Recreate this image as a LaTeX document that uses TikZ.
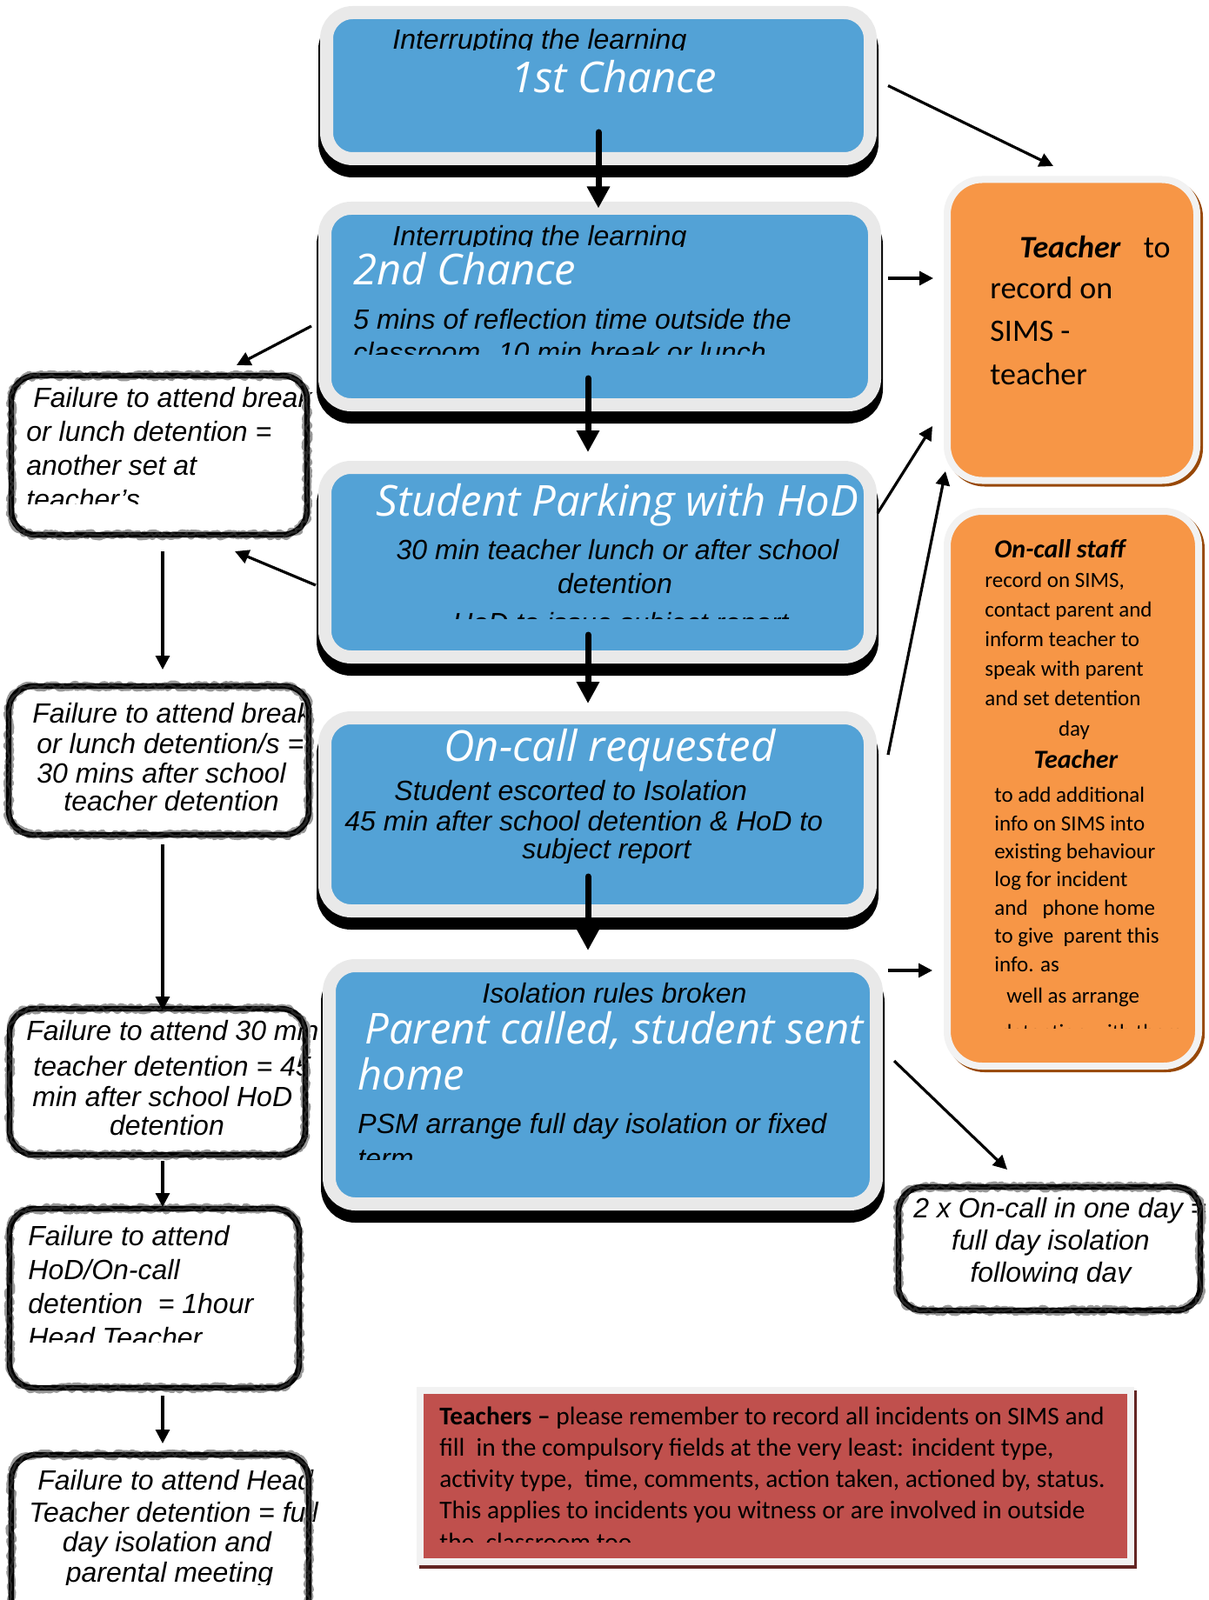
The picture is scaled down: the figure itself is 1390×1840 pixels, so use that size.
\documentclass[tikz,border=0pt]{standalone}
\usepackage{fontspec}
\setmainfont{Liberation Sans}
\newfontfamily\headfont{Open Sans}
\newfontfamily\calfont{Carlito}[Ligatures=TeX]
\usetikzlibrary{arrows.meta,decorations.pathmorphing}

\definecolor{boxblue}{RGB}{83,162,214}
\definecolor{boxgrey}{RGB}{233,233,233}
\definecolor{paleframe}{RGB}{242,242,242}
\definecolor{noteorange}{RGB}{247,150,70}
\definecolor{orangeshadow}{RGB}{152,72,7}
\definecolor{notered}{RGB}{192,80,77}
\definecolor{redshadow}{RGB}{99,37,35}

\begin{document}
\begin{tikzpicture}[x=0.5pt, y=-0.5pt,
    card/.style={fill=boxblue, draw=boxgrey, line width=7.5pt, rounded corners=15pt,
      inner sep=0pt, outer sep=0pt,
      preaction={fill=black, draw=black, line width=9.5pt, transform canvas={yshift=-6pt}}},
    memo/.style={fill=noteorange, draw=paleframe, line width=4pt, rounded corners=20pt,
      inner sep=0pt, outer sep=0pt,
      preaction={fill=orangeshadow, draw=orangeshadow, line width=4pt,
        transform canvas={xshift=1.5pt, yshift=-1.5pt}}},
    notice/.style={fill=notered, draw=paleframe, line width=4pt, inner sep=0pt, outer sep=0pt,
      preaction={fill=redshadow, draw=redshadow, line width=4pt,
        transform canvas={xshift=1.5pt, yshift=-2pt}}},
    sketchbox/.style={fill=white, inner sep=0pt, outer sep=0pt, rounded corners=14pt},
    roughline/.style={draw=black, line width=3.2pt, rounded corners=14pt,
      preaction={draw=black!40, line width=4.4pt, sharp corners, line join=round, decorate,
        decoration={random steps, segment length=1.5pt, amplitude=1.1pt}},
      postaction={draw=black!85, line width=1.3pt, sharp corners, line join=round, decorate,
        decoration={random steps, segment length=1.8pt, amplitude=1.1pt}}},
    blk/.style={font=\itshape\fontsize{16}{19}\selectfont, inner sep=0pt, anchor=base west},
    lead/.style={font=\headfont\itshape\fontsize{24.5}{28}\selectfont, text=white,
      inner sep=0pt, anchor=base west},
    cal/.style={font=\calfont\fontsize{12.5}{17}\selectfont, inner sep=0pt,
      anchor=base west, align=left},
    bigarrow/.style={line width=3.5pt, line cap=round, -{Triangle[length=12.5pt, width=12.5pt]}},
    smallarrow/.style={line width=1.6pt, -{Triangle[length=8pt, width=8pt]}}]

    \clip (0,0) rectangle (1390,1840);
    \fill[white] (0,0) rectangle (1390,1840);

    % Blue cards
    \node[card, minimum width=312.5pt, minimum height=84pt] (chance1) at (688,98.5) {};
    \node[card, minimum width=316pt, minimum height=113pt] (chance2) at (689.5,352.5) {};
    \node[card, minimum width=313.5pt, minimum height=109pt] (parking) at (687,646.5) {};
    \node[card, minimum width=313.5pt, minimum height=111pt] (oncall) at (687,936.5) {};
    \node[card, minimum width=314.5pt, minimum height=137pt] (sendhome) at (693,1247.5) {};

    % Texts of the blue cards (multi-line nodes sit on their last line)
    \begin{scope}
        \clip (380,15) rectangle (1000,58);
        \node[blk] (learn1) at (451,57) {Interrupting the learning};
    \end{scope}
    \node[lead] (first) at (587,107) {1st Chance};

    \begin{scope}
        \clip (380,245) rectangle (1000,284);
        \node[blk] (learn2) at (451,283) {Interrupting the learning};
    \end{scope}
    \node[lead] (second) at (406,328) {2nd Chance};
    \begin{scope}
        \clip (380,340) rectangle (1000,407);
        \node[blk, align=left] (reflect) at (406,416)
            {5 mins of reflection time outside the\\classroom. 10 min break or lunch};
    \end{scope}

    \node[lead] (parkhead) at (432,593) {Student Parking with HoD};
    \node[blk, anchor=base] (parkdet) at (710,643) {30 min teacher lunch or after school};
    \node[blk, anchor=base] (parkdet2) at (707,682) {detention};
    \begin{scope}
        \clip (380,690) rectangle (1000,711);
        \node[blk] (parkhod) at (520,727) {HoD to issue subject report};
    \end{scope}

    \node[lead, anchor=base] (callhead) at (701,875) {On-call requested};
    \node[blk] (escort) at (453,920) {Student escorted to Isolation};
    \node[blk] (escort2) at (396,955) {45 min after school detention \& HoD to};
    \begin{scope}
        \clip (380,960) rectangle (1000,992);
        \node[blk] (escort3) at (600,987) {subject report};
    \end{scope}

    \node[blk] (broken) at (554,1153) {Isolation rules broken};
    \node[lead] (sent) at (419,1200) {Parent called, student sent};
    \node[lead] (home) at (411,1253) {home};
    \node[blk] (psm) at (411,1303) {PSM arrange full day isolation or fixed};
    \begin{scope}
        \clip (385,1310) rectangle (1000,1333);
        \node[blk] (psm2) at (411,1343) {term};
    \end{scope}

    % Orange notes
    \node[memo, minimum width=143.5pt, minimum height=173pt] (recordbox) at (1232.5,379.5) {};
    \node[cal, font=\calfont\fontsize{18}{24.75}\selectfont] (rec1) at (1172,297)
        {\textbf{\textit{Teacher}}\hspace{9pt} to};
    \node[cal, font=\calfont\fontsize{18}{24.75}\selectfont] (rec2) at (1138,442)
        {record on\\SIMS -\\teacher};

    \node[memo, minimum width=144.5pt, minimum height=319pt] (staffbox) at (1233.5,907) {};
    \node[cal, font=\calfont\fontsize{15}{17}\selectfont] (staff1) at (1143,641)
        {\textbf{\textit{On-call staff}}};
    \node[cal] (staff2) at (1132,811)
        {record on SIMS,\\contact parent and\\inform teacher to\\speak with parent\\and set detention};
    \node[cal, anchor=base] (staff3) at (1235,846) {day};
    \node[cal, anchor=base, font=\calfont\fontsize{15}{17}\selectfont] (staff4) at (1237,883)
        {\textbf{\textit{Teacher}}};
    \node[cal, font=\calfont\fontsize{12.5}{16.17}\selectfont] (staff5) at (1143,1117)
        {to add additional\\info on SIMS into\\existing behaviour\\log for incident\\and\ \ \ phone home\\to give\ \ parent this\\info. as};
    \node[cal] (staff6) at (1157,1153) {well as arrange};
    \begin{scope}
        \clip (1095,1160) rectangle (1370,1182);
        \node[cal] (staff7) at (1150,1195) {detention with them};
    \end{scope}

    % Reminder
    \node[notice, minimum width=408.5pt, minimum height=98.5pt] (reminder) at (891.5,1697.5) {};
    \begin{scope}
        \clip (488,1607) rectangle (1292,1773);
        \node[cal, font=\calfont\fontsize{14.7}{18.1}\selectfont] (remindtext) at (505,1783)
            {\textbf{Teachers –} please remember to record all incidents on SIMS and\\
             fill\ \ in the compulsory fields at the very least: incident type,\\
             activity type,\ \ time, comments, action taken, actioned by, status.\\
             This applies to incidents you witness or are involved in outside\\
             the\ \ classroom too.};
    \end{scope}

    % Sketchy boxes
    \node[sketchbox, minimum width=170pt, minimum height=91.5pt] (fail1) at (183,523.5) {};
    \node[sketchbox, minimum width=172.5pt, minimum height=85.5pt] (fail2) at (182.5,874.5) {};
    \node[sketchbox, minimum width=170pt, minimum height=84pt] (fail3) at (181,1244) {};
    \node[sketchbox, minimum width=166.5pt, minimum height=103pt] (fail4) at (177.5,1493) {};
    \node[sketchbox, minimum width=171pt, minimum height=103pt] (fail5) at (184,1776) {};
    \node[sketchbox, minimum width=173.5pt, minimum height=71pt] (twice) at (1206.5,1436) {};

    \begin{scope}
        \clip (0,435) rectangle (400,579);
        \node[blk] (fail1a) at (38,468) {Failure to attend break};
        \node[blk, align=left, font=\itshape\fontsize{16}{19.5}\selectfont] (fail1b) at (30,585)
            {or lunch detention =\\another set at\\teacher's};
    \end{scope}

    \node[blk] (fail2a) at (37,831) {Failure to attend break};
    \node[blk, align=left, font=\itshape\fontsize{16}{17}\selectfont] (fail2b) at (42,900)
        {or lunch detention/s =\\30 mins after school};
    \node[blk] (fail2c) at (73,932) {teacher detention};

    \node[blk] (fail3a) at (30,1196) {Failure to attend 30 min};
    \node[blk] (fail3b) at (38,1237) {teacher detention = 45};
    \node[blk] (fail3c) at (37,1272) {min after school HoD};
    \node[blk, anchor=base] (fail3d) at (192,1305) {detention};

    \begin{scope}
        \clip (0,1395) rectangle (400,1543);
        \node[blk, align=left, font=\itshape\fontsize{16}{19.5}\selectfont] (fail4a) at (32,1549)
            {Failure to attend\\HoD/On-call\\detention\ \ = 1hour\\Head Teacher};
    \end{scope}

    \begin{scope}
        \clip (0,1680) rectangle (400,1822);
        \node[blk] (fail5a) at (43,1713) {Failure to attend Head};
        \node[blk] (fail5b) at (33,1750) {Teacher detention = full};
        \node[blk, anchor=base] (fail5c) at (192,1784) {day isolation and};
        \node[blk, anchor=base] (fail5d) at (195,1819) {parental meeting};
    \end{scope}

    \node[blk] (twice1) at (1050,1400) {2 x On-call in one day =};
    \begin{scope}
        \clip (1035,1405) rectangle (1400,1475);
        \node[blk, anchor=base] (twice2) at (1208,1437) {full day isolation};
        \node[blk, anchor=base] (twice3) at (1208,1474) {following day};
    \end{scope}

    \draw[roughline] (fail1.north west) rectangle (fail1.south east);
    \draw[roughline] (fail2.north west) rectangle (fail2.south east);
    \draw[roughline] (fail3.north west) rectangle (fail3.south east);
    \draw[roughline] (fail4.north west) rectangle (fail4.south east);
    \draw[roughline] (fail5.north west) rectangle (fail5.south east);
    \draw[roughline] (twice.north west) rectangle (twice.south east);

    % Arrows down the middle
    \draw[bigarrow] ([yshift=15.25pt]chance1.south) -- ([xshift=-0.75pt]chance2.north);
    \draw[bigarrow] ([xshift=-6.75pt,yshift=15.25pt]chance2.south) -- ([xshift=-5.5pt,yshift=8.75pt]parking.north);
    \draw[bigarrow] ([xshift=-5.5pt,yshift=12.75pt]parking.south) -- ([xshift=-5.5pt,yshift=8.25pt]oncall.north);
    \draw[bigarrow] ([xshift=-5.5pt,yshift=19.75pt]oncall.south) -- ([xshift=-8.5pt,yshift=8.75pt]sendhome.north);

    % Arrows to the right
    \draw[smallarrow] ([xshift=10.25pt]chance1.east) -- ([xshift=-10.75pt,yshift=7.75pt]recordbox.north);
    \draw[smallarrow] ([xshift=7.75pt,yshift=16.25pt]chance2.east) -- ([xshift=-8pt,yshift=29.75pt]recordbox.west);
    \draw[smallarrow] ([xshift=4.25pt,yshift=28.25pt]parking.east) -- ([xshift=-8.5pt,yshift=31.25pt]recordbox.south west);
    \draw[smallarrow] ([xshift=10.25pt,yshift=34.25pt]oncall.east) -- ([xshift=-1pt,yshift=5.25pt]recordbox.south west);
    \draw[smallarrow] ([xshift=6.75pt,yshift=65.75pt]sendhome.east) -- ([xshift=-8.5pt,yshift=55pt]staffbox.south west);
    \draw[smallarrow] ([xshift=10.25pt,yshift=13.75pt]sendhome.east) -- ([xshift=-24.25pt,yshift=10pt]twice.north);

    % Arrows on the left
    \draw[smallarrow] ([xshift=-7.75pt,yshift=-11.25pt]chance2.west) -- ([xshift=44.5pt,yshift=6pt]fail1.north);
    \draw[smallarrow] ([xshift=-5.25pt,yshift=-13.25pt]parking.west) -- ([xshift=43.5pt,yshift=-9.5pt]fail1.south);
    \draw[smallarrow] ([xshift=2pt,yshift=-9.5pt]fail1.south) -- ([xshift=2.25pt,yshift=9.5pt]fail2.north);
    \draw[smallarrow] ([xshift=2.25pt,yshift=-5.5pt]fail2.south) -- ([xshift=3pt,yshift=-1pt]fail3.north);
    \draw[smallarrow] ([xshift=3pt,yshift=-3.5pt]fail3.south) -- ([xshift=4.75pt,yshift=1pt]fail4.north);
    \draw[smallarrow] ([xshift=4.75pt,yshift=-4.5pt]fail4.south) -- ([xshift=1.5pt,yshift=6.5pt]fail5.north);
\end{tikzpicture}
\end{document}
